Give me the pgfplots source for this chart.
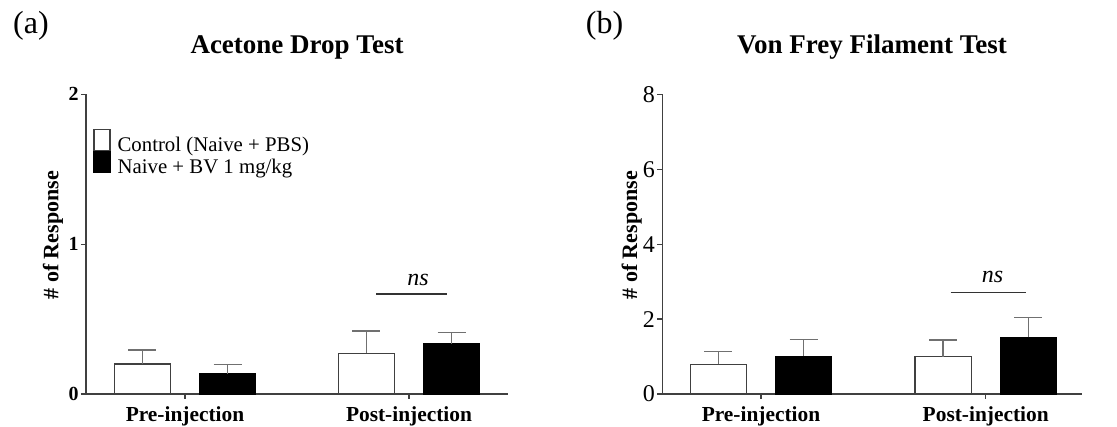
\documentclass[border=0pt]{standalone}
\usepackage{fontspec}
\setmainfont{Liberation Serif}
\usepackage{pgfplots}
\pgfplotsset{compat=1.18}

\definecolor{axisgray}{HTML}{404040}
\definecolor{errgray}{HTML}{707070}

\pgfplotsset{
  panel/.style={
    scale only axis, height=149.85pt, ymin=0,
    clip=false,
    axis x line*=bottom, axis y line*=left,
    axis line style={-, draw=axisgray, line width=0.6pt},
    tick style={draw=axisgray, line width=0.6pt},
    tick align=outside, major tick length=2.5pt,
    xtick={0,1}, xticklabels={Pre-injection,Post-injection},
    xticklabel style={font=\fontsize{10.7}{12}\selectfont\bfseries, anchor=base, yshift=-11.5pt},
    /pgf/number format/assume math mode=true,
    ybar, bar width=0.25,
    title style={at={(0.5,1)}, anchor=base, yshift=14.5pt, font=\fontsize{13.5}{15}\selectfont\bfseries},
    ylabel={\# of Response},
    error bars/y dir=plus, error bars/y explicit,
    error bars/error bar style={errgray, line width=0.75pt},
    error bars/error mark options={errgray, line width=0.75pt, mark size=7pt, rotate=90},
  },
  ctl/.style={bar shift=-0.19, fill=white, draw=axisgray, line width=0.6pt},
  bv/.style={bar shift=0.19, fill=black, draw=black, line width=0.6pt},
}

\begin{document}
\begin{tikzpicture}
\useasboundingbox (0,0) rectangle (558.5pt,213.5pt);

\node[font=\fontsize{16}{18}\selectfont] at (15.5pt,200.5pt) {(a)};
\node[font=\fontsize{16}{18}\selectfont] at (302.25pt,200.5pt) {(b)};

% (a) Acetone drop test
\begin{axis}[panel,
  at={(43pt,16.5pt)}, anchor=south west,
  width=211pt, xmin=-0.442, xmax=1.442,
  ymax=2, ytick={0,1,2},
  yticklabel style={font=\fontsize{10}{11}\selectfont\bfseries, inner sep=1pt},
  ylabel style={at={([xshift=-16.5pt]rel axis cs:0,0.53)}, anchor=center, font=\fontsize{11}{12}\selectfont\bfseries},
  title={Acetone Drop Test},
  legend style={at={(rel axis cs:0,1)}, anchor=north west, xshift=3.5pt, yshift=-17pt,
    draw=none, fill=none, row sep=-1.5pt, inner sep=0pt,
    nodes={inner xsep=3.5pt, inner ysep=0pt},
    font=\fontsize{10.4}{11}\selectfont},
  legend cell align=left,
  legend image code/.code={\draw[#1,/tikz/.cd] (0pt,-2.5pt) rectangle (8pt,8pt);},
]
\addplot[ctl] table[x=x, y=y, y error=e] {
x y e
0 0.200 0.095
1 0.271 0.149
};
\addlegendentry{Control (Naive + PBS)}
\addplot[bv] table[x=x, y=y, y error=e] {
x y e
0 0.135 0.063
1 0.333 0.076
};
\addlegendentry{Naive + BV 1 mg/kg}
\draw[black!80, line width=0.6pt] (axis cs:0.853,0.667) -- (axis cs:1.168,0.667);
\node[anchor=base, font=\fontsize{12}{13}\selectfont\itshape] at (axis cs:1.04,0.667) [yshift=4.5pt] {ns};
\end{axis}

% (b) Von Frey filament test
\begin{axis}[panel,
  at={(331.15pt,16.5pt)}, anchor=south west,
  width=209.7pt, xmin=-0.439, xmax=1.427,
  ymax=8, ytick={0,2,4,6,8},
  yticklabel style={font=\fontsize{12}{13}\selectfont, inner sep=1pt},
  ylabel style={at={([xshift=-15.3pt]rel axis cs:0,0.53)}, anchor=center, font=\fontsize{11}{12}\selectfont\bfseries},
  title={Von Frey Filament Test},
]
\addplot[ctl] table[x=x, y=y, y error=e] {
x y e
0 0.79 0.345
1 1.00 0.44
};
\addplot[bv] table[x=x, y=y, y error=e] {
x y e
0 1.01 0.45
1 1.51 0.53
};
\draw[black!80, line width=0.6pt] (axis cs:0.844,2.71) -- (axis cs:1.18,2.71);
\node[anchor=base, font=\fontsize{12}{13}\selectfont\itshape] at (axis cs:1.03,2.71) [yshift=5pt] {ns};
\end{axis}
\end{tikzpicture}
\end{document}
